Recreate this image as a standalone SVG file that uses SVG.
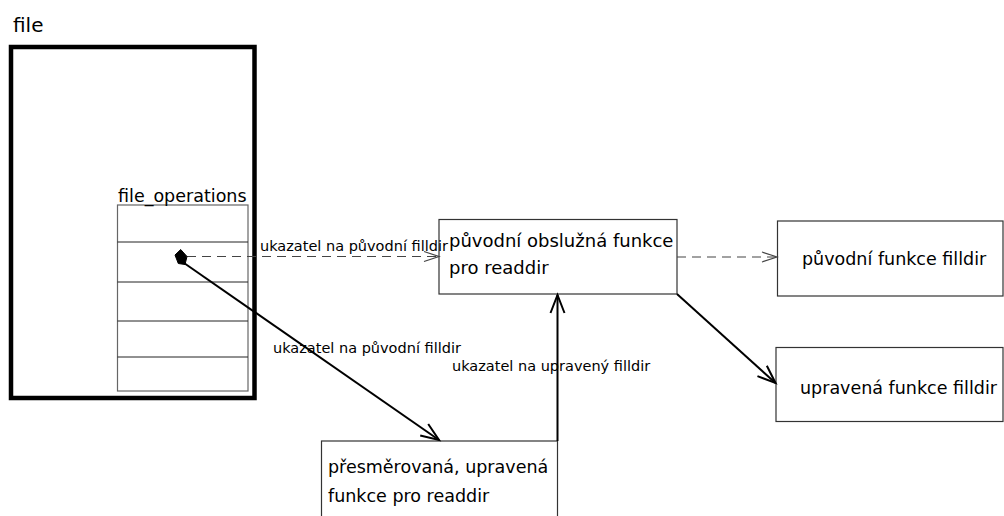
<svg xmlns="http://www.w3.org/2000/svg" width="1004" height="516" viewBox="0 0 1004 516">
  <style>
    text { font-family: "DejaVu Sans", "Liberation Sans", sans-serif; fill: #000; }
    .title { font-size: 20px; }
    .node-text { font-size: 17.5px; }
    .label { font-size: 14.5px; }
    .box { fill: #fff; stroke: #333; stroke-width: 1.2; }
    .solid { fill: none; stroke: #000; stroke-width: 2; }
    .dashed { fill: none; stroke: #444; stroke-width: 1.2; stroke-dasharray: 9 6; }
  </style>
  <defs>
    <marker id="open-solid" markerUnits="userSpaceOnUse" viewBox="-20 -9 22 18" refX="0" refY="0" markerWidth="22" markerHeight="18" orient="auto" overflow="visible">
      <path d="M -18 -7 L 0 0 L -18 7" fill="none" stroke="#000" stroke-width="2"/>
    </marker>
    <marker id="open-dashed" markerUnits="userSpaceOnUse" viewBox="-17 -7 19 14" refX="0" refY="0" markerWidth="19" markerHeight="14" orient="auto" overflow="visible">
      <path d="M -15 -5 L 0 0 L -15 5" fill="none" stroke="#444" stroke-width="1.2"/>
    </marker>
  </defs>

  <!-- struct file with its file_operations table -->
  <g id="file">
    <text class="title" x="13" y="32">file</text>
    <rect x="11" y="47" width="243.5" height="351" fill="#fff" stroke="#000" stroke-width="4.5"/>
  </g>
  <g id="file_operations">
    <rect x="117.5" y="205" width="130.5" height="186" fill="#fff" stroke="#666" stroke-width="1.2"/>
    <g stroke="#222" stroke-width="1">
      <line x1="117.5" y1="242" x2="248" y2="242"/>
      <line x1="117.5" y1="282" x2="248" y2="282"/>
      <line x1="117.5" y1="321" x2="248" y2="321"/>
      <line x1="117.5" y1="357" x2="248" y2="357"/>
    </g>
    <text class="node-text" x="118" y="202">file_operations</text>
  </g>

  <g id="orig-readdir">
    <rect class="box" x="439" y="219.5" width="238" height="74.5"/>
    <text class="node-text" x="449" y="246.5" style="font-size:18px">původní obslužná funkce</text>
    <text class="node-text" x="449" y="274" style="font-size:18px">pro readdir</text>
  </g>

  <g id="orig-filldir">
    <rect class="box" x="777.5" y="221" width="225.5" height="75"/>
    <text class="node-text" x="802" y="265">původní funkce filldir</text>
  </g>

  <g id="new-filldir">
    <rect class="box" x="776" y="347.5" width="227" height="74"/>
    <text class="node-text" x="800" y="394">upravená funkce filldir</text>
  </g>

  <g id="new-readdir">
    <rect class="box" x="321.5" y="441" width="236" height="90"/>
    <text class="node-text" x="328" y="473">přesměrovaná, upravená</text>
    <text class="node-text" x="328" y="501.5">funkce pro readdir</text>
  </g>

  <!-- connectors -->
  <g id="connectors">
    <line class="dashed" x1="187" y1="256.5" x2="439" y2="256.5" marker-end="url(#open-dashed)"/>
    <line class="solid" x1="184" y1="263" x2="439" y2="440" marker-end="url(#open-solid)"/>
    <polygon points="180.7,249.5 187,256.5 185,264.5 178.3,263.5 175,255" fill="#000" stroke="#000" stroke-width="1"/>
    <line class="solid" x1="557.5" y1="441" x2="557.5" y2="295" marker-end="url(#open-solid)"/>
    <line class="dashed" x1="677" y1="257" x2="777" y2="257" marker-end="url(#open-dashed)"/>
    <line class="solid" x1="677" y1="294" x2="775.5" y2="383" marker-end="url(#open-solid)"/>
    <text class="label" x="260" y="251">ukazatel na původní filldir</text>
    <text class="label" x="273" y="352.5">ukazatel na původní filldir</text>
    <text class="label" x="452" y="370.5">ukazatel na upravený filldir</text>
  </g>
</svg>
